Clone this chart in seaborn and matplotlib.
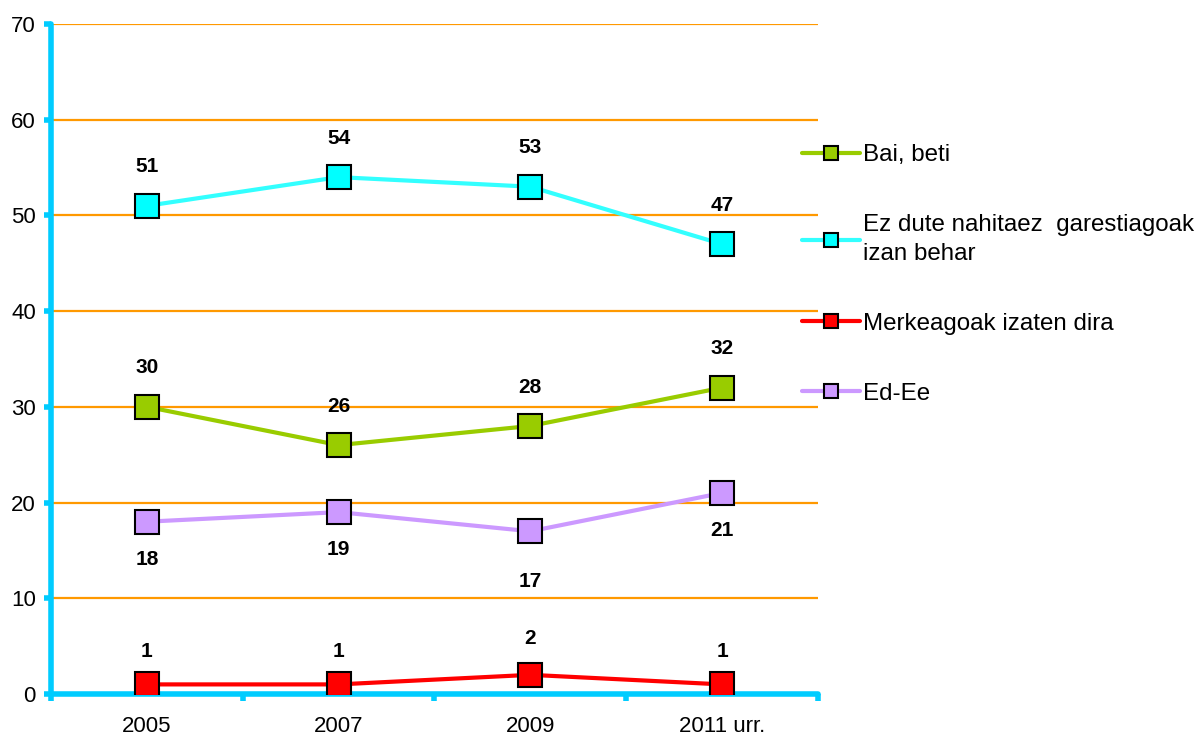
import pandas as pd
import seaborn as sns
from matplotlib import pyplot as plt
from matplotlib.lines import Line2D

years = ["2005", "2007", "2009", "2011 urr."]
series = ["Bai, beti", "Ez dute nahitaez  garestiagoak\nizan behar", "Merkeagoak izaten dira", "Ed-Ee"]
bai_beti = [30, 26, 28, 32]
ez_dute = [51, 54, 53, 47]
merkeagoak = [1, 1, 2, 1]
ed_ee = [18, 19, 17, 21]

values = [bai_beti, ez_dute, merkeagoak, ed_ee]
line_colors = ["#99CC00", "#33FFFF", "#FF0000", "#CC99FF"]
face_colors = ["#99CC00", "#00FFFF", "#FF0000", "#CC99FF"]
# label offsets in points (above / below the marker)
label_offsets = [[28, 28, 28, 28], [28, 28, 28, 28], [24, 24, 26, 24], [-27, -27, -36, -27]]

rows = []
for name, vals in zip(series, values):
    for yr, v in zip(years, vals):
        rows.append({"year": yr, "value": v, "series": name})
df = pd.DataFrame(rows)

sns.set_theme(style="white")
plt.rcParams["font.family"] = ["Liberation Sans", "DejaVu Sans"]

fig = plt.figure(figsize=(12.01, 7.36), dpi=100)
ax = fig.add_axes([0.0425, 0.0571, 0.6385, 0.9103])

handles = []
for i, name in enumerate(series):
    sub = df[df["series"] == name]
    sns.lineplot(data=sub, x="year", y="value", ax=ax, color=line_colors[i], linewidth=3,
                 marker="s", markersize=17, markerfacecolor=face_colors[i],
                 markeredgecolor="black", markeredgewidth=1.5, zorder=3)
    for j, v in enumerate(values[i]):
        ax.annotate(str(v), (j, v), xytext=(0, label_offsets[i][j]), textcoords="offset points",
                    ha="center", va="center", fontsize=15, fontweight="bold", color="black")
    handles.append(Line2D([], [], color=line_colors[i], linewidth=3, marker="s", markersize=10,
                          markerfacecolor=face_colors[i], markeredgecolor="black", markeredgewidth=1.5))

ax.set_xlim(-0.5, 3.5)
ax.set_ylim(0, 70)
ax.set_yticks(range(0, 71, 10))
ax.set_xticks(range(4))
ax.set_xticklabels(years)
ax.set_xticks([-0.5, 0.5, 1.5, 2.5, 3.5], minor=True)
ax.set_xlabel("")
ax.set_ylabel("")

ax.grid(axis="y", color="#FF9900", linewidth=1.6)
ax.set_axisbelow(True)
for s in ["top", "right"]:
    ax.spines[s].set_visible(False)
for s in ["left", "bottom"]:
    ax.spines[s].set_color("#00CCFF")
    ax.spines[s].set_linewidth(4)
    ax.spines[s].set_capstyle("round")

ax.tick_params(axis="x", which="major", length=0, pad=16, labelsize=16, labelcolor="black")
ax.tick_params(axis="x", which="minor", length=5, width=4, color="#00CCFF", direction="out", bottom=True)
ax.tick_params(axis="y", length=5, width=4, color="#00CCFF", direction="out", left=True,
               labelsize=16, labelcolor="black", pad=6)

leg = ax.legend(handles, series, loc="upper left", bbox_to_anchor=(0.951, 0.853), frameon=False,
                fontsize=17.4, handlelength=2.4, handletextpad=0.12, labelspacing=1.98,
                labelcolor="black")
for t in leg.get_texts():
    t.set_linespacing(1.4)

fig.savefig("out.png", dpi=100)
